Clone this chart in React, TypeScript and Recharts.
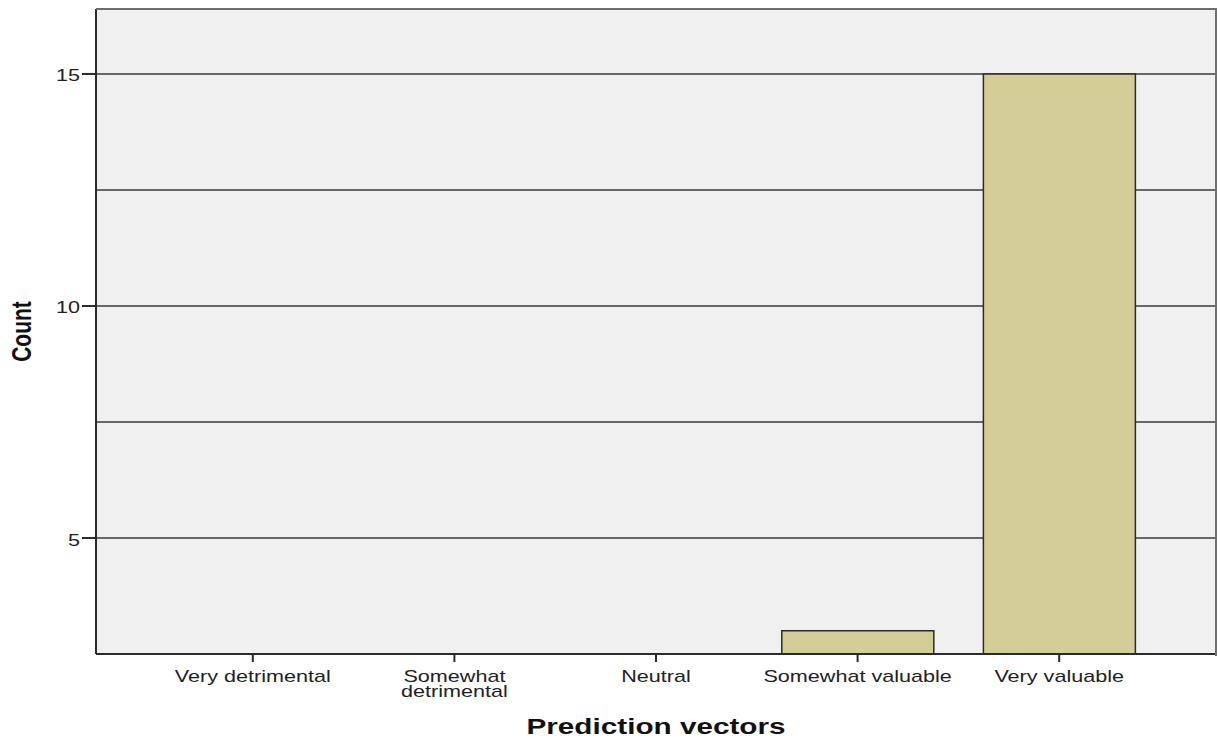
import React from 'react';
import { BarChart, Bar, XAxis, YAxis, CartesianGrid } from 'recharts';

const categories = ['Very detrimental', 'Somewhat\ndetrimental', 'Neutral', 'Somewhat valuable', 'Very valuable'];
const counts: (number | null)[] = [null, null, null, 3, 15];
const yTicks = [5, 10, 15];
const gridValues = [5, 7.5, 10, 12.5, 15];

const data = categories.map((label, i) => ({ label, count: counts[i] }));

const FONT = '"Liberation Sans", Arial, sans-serif';
// the source image is stretched sideways, so the text is too
const SX = 1.35;

const CategoryTick = (props: any) => {
  const { x, y, payload } = props;
  const lines = String(payload.value).split('\n');
  return (
    <g transform={`translate(${x},${y}) scale(${SX},1)`}>
      <text x={0} y={0} textAnchor="middle" fontFamily={FONT} fontSize={16} fill="#222">
        {lines.map((ln, i) => (
          <tspan key={i} x={0} dy={i === 0 ? 18.5 : 15}>{ln}</tspan>
        ))}
      </text>
    </g>
  );
};

const CountTick = (props: any) => {
  const { x, y, payload } = props;
  return (
    <g transform={`translate(${x},${y}) scale(${SX},1)`}>
      <text x={0} y={0} dy={7.5} textAnchor="end" fontFamily={FONT} fontSize={16} fill="#222">
        {payload.value}
      </text>
    </g>
  );
};

const XTitle = (props: any) => {
  const vb = props.viewBox || {};
  return (
    <g transform={`translate(${vb.x + vb.width / 2},${vb.y + 80}) scale(${SX},1)`}>
      <text x={0} y={0} textAnchor="middle" fontFamily={FONT} fontSize={22} fontWeight="bold" fill="#111">
        Prediction vectors
      </text>
    </g>
  );
};

const YTitle = (props: any) => {
  const vb = props.viewBox || {};
  return (
    <g transform={`translate(${vb.x + 31},${vb.y + vb.height / 2}) scale(${SX},1) rotate(-90)`}>
      <text x={0} y={0} textAnchor="middle" fontFamily={FONT} fontSize={21} fontWeight="bold" fill="#111">
        Count
      </text>
    </g>
  );
};

export default function App() {
  return (
    <div style={{ position: 'absolute', left: 0, top: 0, width: 1223, height: 742, background: '#fff' }}>
      <BarChart width={1223} height={742} data={data} margin={{ top: 9, right: 7, bottom: 0, left: 0 }} barCategoryGap={0}>
        <CartesianGrid fill="#f0f0f0" vertical={false} horizontalValues={gridValues} stroke="#3a3a3a" strokeWidth={1.5} />
        <XAxis
          dataKey="label"
          height={88}
          padding={{ left: 56, right: 56 }}
          stroke="#2b2b2b"
          strokeWidth={2}
          tickSize={8}
          tickMargin={2}
          tick={<CategoryTick />}
          interval={0}
          label={<XTitle />}
        />
        <YAxis
          type="number"
          domain={[2.5, 16.4]}
          allowDataOverflow
          ticks={yTicks}
          width={96}
          stroke="#2b2b2b"
          strokeWidth={2}
          tickSize={14}
          tickMargin={2}
          tick={<CountTick />}
          label={<YTitle />}
        />
        <Bar dataKey="count" fill="#d3ce97" stroke="#2b2b2b" strokeWidth={1.5} barSize={152} isAnimationActive={false} />
      </BarChart>
      {/* top and right frame of the plot area */}
      <div style={{ position: 'absolute', left: 96, top: 8, width: 1119, height: 646, borderTop: '2px solid #6e6e6e', borderRight: '2px solid #6e6e6e', pointerEvents: 'none' }} />
    </div>
  );
}
